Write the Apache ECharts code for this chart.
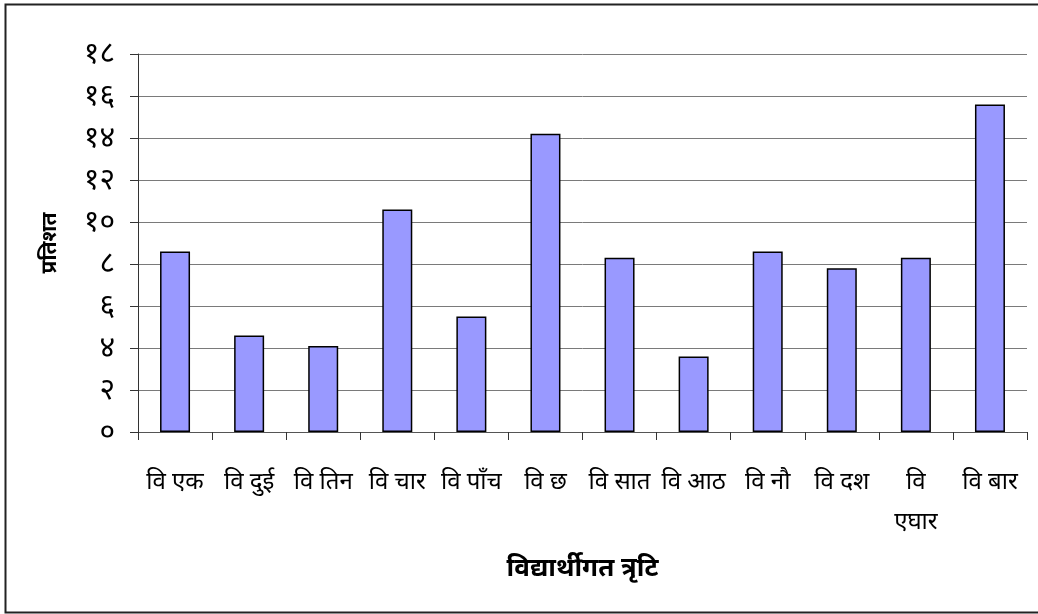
<!DOCTYPE html>
<html>
<head>
<meta charset="utf-8">
<script src="https://cdn.jsdelivr.net/npm/echarts@6/dist/echarts.min.js"></script>
<style>
  html, body { margin: 0; padding: 0; background: #fff; }
  #chart { width: 1038px; height: 614px; }
</style>
</head>
<body>
<div id="chart"></div>
<script>
const categories = ['वि एक', 'वि दुई', 'वि तिन', 'वि चार', 'वि पाँच', 'वि छ', 'वि सात', 'वि आठ', 'वि नौ', 'वि दश', 'वि\nएघार', 'वि बार'];
const percents = [8.6, 4.6, 4.1, 10.6, 5.5, 14.2, 8.3, 3.6, 8.6, 7.8, 8.3, 15.6];
const yTickLabels = ['०', '२', '४', '६', '८', '१०', '१२', '१४', '१६', '१८'];

const font = '"Noto Sans", "DejaVu Sans", sans-serif';
const chart = echarts.init(document.getElementById('chart'));

chart.setOption({
  animation: false,
  backgroundColor: '#fff',
  graphic: [{
    type: 'rect',
    shape: { x: 5.5, y: 4.5, width: 1040, height: 608 },
    style: { fill: 'none', stroke: '#222', lineWidth: 2 }
  }],
  grid: { left: 138, right: 11, top: 54, bottom: 182 },
  xAxis: {
    type: 'category',
    data: categories,
    name: 'विद्यार्थीगत त्रृटि',
    nameLocation: 'middle',
    nameGap: 124,
    nameTextStyle: { fontFamily: font, fontSize: 26, fontWeight: 'bold', color: '#000' },
    axisLine: { lineStyle: { color: '#555', width: 1 } },
    axisTick: { show: true, length: 8, lineStyle: { color: '#333' } },
    axisLabel: {
      fontFamily: font, fontSize: 24, color: '#000',
      margin: 30, lineHeight: 40, interval: 0, verticalAlign: 'top'
    }
  },
  yAxis: {
    type: 'value',
    min: 0, max: 18, interval: 2,
    name: 'प्रतिशत',
    nameLocation: 'middle',
    nameGap: 77,
    nameRotate: 90,
    nameTextStyle: { fontFamily: font, fontSize: 21, fontWeight: 'bold', color: '#000' },
    axisLine: { show: true, lineStyle: { color: '#333', width: 1 } },
    axisTick: { show: true, length: 8, lineStyle: { color: '#333' } },
    splitLine: { show: true, lineStyle: { color: '#7a7a7a', width: 1 } },
    axisLabel: {
      fontFamily: font, fontSize: 30, color: '#000', margin: 23,
      formatter: (v) => yTickLabels[Math.round(v / 2)]
    }
  },
  series: [{
    type: 'bar',
    data: percents,
    barWidth: 30,
    itemStyle: { color: '#9999ff', borderColor: '#000', borderWidth: 1.5 }
  }]
});
</script>
</body>
</html>
